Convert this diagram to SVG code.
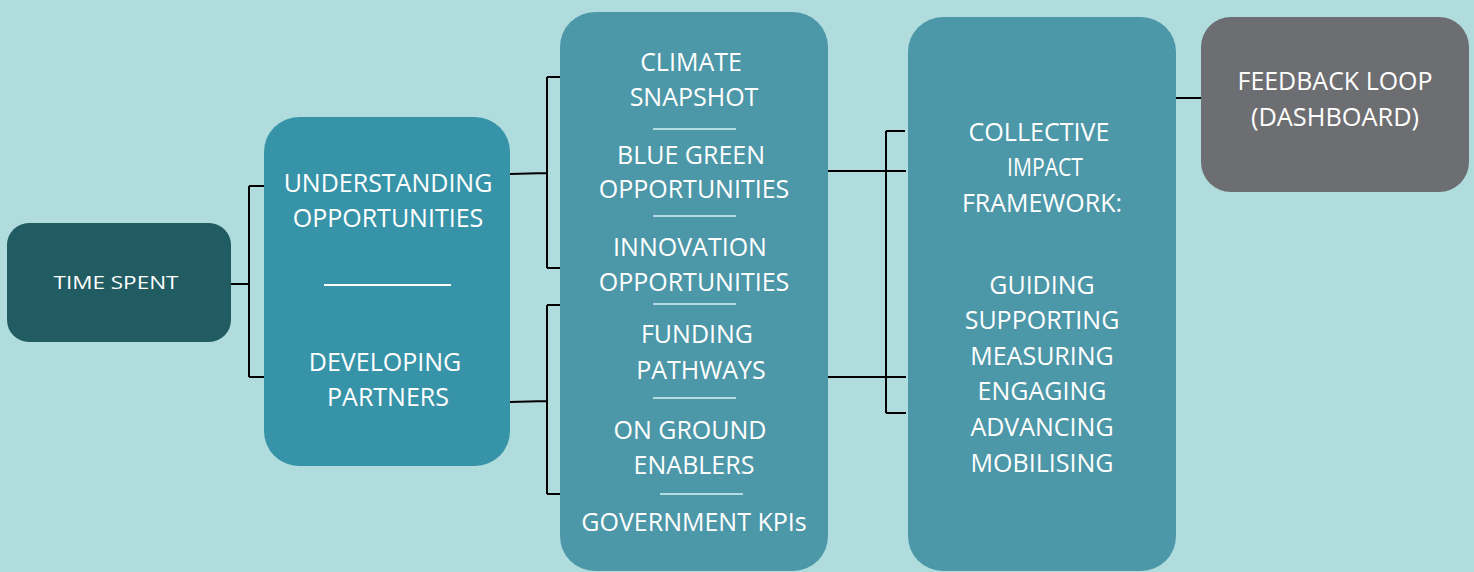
<svg xmlns="http://www.w3.org/2000/svg" width="1474" height="572" viewBox="0 0 1474 572">
  <style>
    .t { font-family: "Open Sans", "Liberation Sans", sans-serif; fill: #ffffff; text-anchor: middle; }
    .big { font-size: 25px; }
    .small { font-size: 19px; }
    .cond { font-size: 25px; }
    .link { stroke: #000000; stroke-width: 2; fill: none; }
    .sep { stroke: #ffffff; stroke-width: 2; }
    .sepl { stroke: #b4dbe1; stroke-width: 2; }
  </style>
  <rect width="1474" height="572" fill="#b0dcdd"/>

  <g id="connectors">
    <path class="link" d="M231 284 H249 M249 186 V377 M249 186 H264 M249 377 H264"/>
    <path class="link" d="M510 174 L547 173 M547 77 V268 M547 77 H560 M547 268 H560"/>
    <path class="link" d="M510 402 L547 401 M547 305 V494 M547 305 H560 M547 494 H560"/>
    <path class="link" d="M828 171 H906 M886 131 V413 M886 131 H905 M828 377 H906 M886 413 H906"/>
    <path class="link" d="M1176 98 H1201"/>
  </g>

  <g id="time-spent">
    <rect x="7" y="223" width="224" height="119" rx="22" fill="#225c63"/>
    <text class="t small" x="116" y="289" textLength="125" lengthAdjust="spacingAndGlyphs">TIME SPENT</text>
  </g>

  <g id="activities">
    <rect x="264" y="117" width="246" height="349" rx="35" fill="#3794a8"/>
    <text class="t big" x="388" y="192">UNDERSTANDING</text>
    <text class="t big" x="388" y="227">OPPORTUNITIES</text>
    <line class="sep" x1="324" y1="285" x2="451" y2="285"/>
    <text class="t big" x="385" y="371">DEVELOPING</text>
    <text class="t big" x="388" y="406">PARTNERS</text>
  </g>

  <g id="workstreams">
    <rect x="560" y="12" width="268" height="559" rx="35" fill="#4c97a8"/>
    <text class="t big" x="691" y="71">CLIMATE</text>
    <text class="t big" x="694" y="106">SNAPSHOT</text>
    <line class="sepl" x1="653" y1="129" x2="736" y2="129"/>
    <text class="t big" x="691" y="164">BLUE GREEN</text>
    <text class="t big" x="694" y="198">OPPORTUNITIES</text>
    <line class="sepl" x1="653" y1="216" x2="736" y2="216"/>
    <text class="t big" x="690" y="256">INNOVATION</text>
    <text class="t big" x="694" y="291">OPPORTUNITIES</text>
    <line class="sepl" x1="653" y1="304" x2="736" y2="304"/>
    <text class="t big" x="697" y="343">FUNDING</text>
    <text class="t big" x="701" y="379">PATHWAYS</text>
    <line class="sepl" x1="653" y1="398" x2="736" y2="398"/>
    <text class="t big" x="690" y="439">ON GROUND</text>
    <text class="t big" x="694" y="474">ENABLERS</text>
    <line class="sepl" x1="660" y1="494" x2="743" y2="494"/>
    <text class="t big" x="694" y="531">GOVERNMENT KPIs</text>
  </g>

  <g id="framework">
    <rect x="908" y="17" width="268" height="554" rx="35" fill="#4c97a8"/>
    <text class="t cond" x="1039" y="141" textLength="141" lengthAdjust="spacingAndGlyphs">COLLECTIVE</text>
    <text class="t cond" x="1045" y="176" textLength="76" lengthAdjust="spacingAndGlyphs">IMPACT</text>
    <text class="t cond" x="1042" y="212" textLength="160" lengthAdjust="spacingAndGlyphs">FRAMEWORK:</text>
    <text class="t big" x="1042" y="294">GUIDING</text>
    <text class="t big" x="1042" y="329">SUPPORTING</text>
    <text class="t big" x="1042" y="365">MEASURING</text>
    <text class="t big" x="1042" y="400">ENGAGING</text>
    <text class="t big" x="1042" y="436">ADVANCING</text>
    <text class="t big" x="1042" y="472">MOBILISING</text>
  </g>

  <g id="feedback-loop">
    <rect x="1201" y="17" width="268" height="175" rx="30" fill="#6d6e71"/>
    <text class="t cond" x="1335" y="90" textLength="195" lengthAdjust="spacingAndGlyphs">FEEDBACK LOOP</text>
    <text class="t cond" x="1335" y="126" textLength="168" lengthAdjust="spacingAndGlyphs">(DASHBOARD)</text>
  </g>
</svg>
